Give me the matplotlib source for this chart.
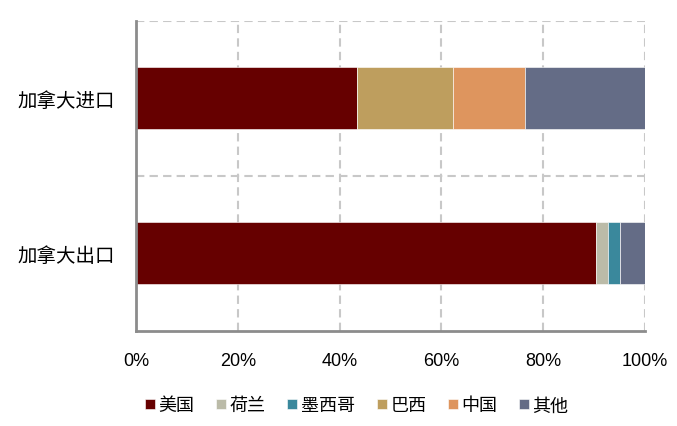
import matplotlib
matplotlib.use('Agg')
import matplotlib.pyplot as plt
import numpy as np

plt.rcParams['font.family'] = ['Liberation Sans', 'Noto Sans CJK SC']

categories = ['加拿大进口', '加拿大出口']
partners = ['美国', '荷兰', '墨西哥', '巴西', '中国', '其他']
colors = ['#660000', '#BBBBA8', '#3A889C', '#BE9E5E', '#DE955E', '#646C86']

# share of trade, percent, one list per partner: [import, export]
us = [43.4, 90.3]
netherlands = [0.0, 2.4]
mexico = [0.0, 2.4]
brazil = [18.9, 0.0]
china = [14.2, 0.0]
others = [23.5, 4.9]

xticks = [0, 20, 40, 60, 80, 100]
xticklabels = ['0%', '20%', '40%', '60%', '80%', '100%']

series = [us, netherlands, mexico, brazil, china, others]

fig = plt.figure(figsize=(6.77, 4.27), dpi=100)
ax = fig.add_axes([0.2009, 0.2225, 0.7518, 0.726])

y = np.arange(len(categories))
left = np.zeros(len(categories))
for name, vals, c in zip(partners, series, colors):
    vals = np.array(vals)
    ax.barh(y, vals, left=left, height=0.4, color=c, label=name,
            edgecolor='white', linewidth=0.4, zorder=3)
    left += vals

ax.set_xlim(0, 100)
ax.set_ylim(1.5, -0.5)
ax.set_yticks(y)
ax.set_yticklabels(categories, fontsize=14)
ax.set_xticks(xticks)
ax.set_xticklabels(xticklabels, fontsize=13)
ax.tick_params(axis='both', length=0)
ax.tick_params(axis='x', pad=15)
ax.tick_params(axis='y', pad=15)

grid_kw = dict(color='#C8C8C8', linestyle=(0, (4, 2.5)), linewidth=1.5, zorder=1)
for xv in xticks[1:]:
    ax.axvline(xv, **grid_kw)
ax.axhline(0.5, **grid_kw)
ax.axhline(-0.5, **grid_kw)

for side in ['top', 'right']:
    ax.spines[side].set_visible(False)
for side in ['left', 'bottom']:
    ax.spines[side].set_color('#8C8C8C')
    ax.spines[side].set_linewidth(2)
    ax.spines[side].set_zorder(4)

fig.legend(loc='center', bbox_to_anchor=(0.527, 0.047), ncol=6, frameon=False,
           fontsize=13, handlelength=0.55, handleheight=0.55, handletextpad=0.2,
           columnspacing=1.2, borderaxespad=0)

fig.savefig('out.png', dpi=100)
